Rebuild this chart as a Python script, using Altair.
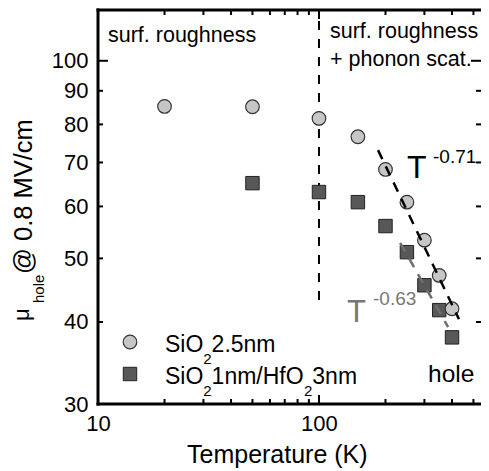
import altair as alt
import pandas as pd

# ---- data ----
temp_sio2 = [20, 50, 100, 150, 200, 250, 300, 350, 400]
mu_sio2 = [85.2, 85.1, 81.7, 76.6, 68.3, 60.9, 53.3, 47.1, 41.9]

temp_hfo2 = [50, 100, 150, 200, 250, 300, 350, 400]
mu_hfo2 = [65.1, 63.1, 60.9, 56.0, 51.1, 45.5, 41.7, 37.9]

fit_sio2_t = [185, 430]
fit_sio2_mu = [73.1, 40.4]
fit_hfo2_t = [233, 384]
fit_hfo2_mu = [52.8, 39.3]

boundary_t = [100, 100]
boundary_mu = [43.2, 119.5]

x_label_values = [10, 100]
y_label_values = [30, 40, 50, 60, 70, 80, 90, 100]
x_major_ticks = [10, 100]
x_minor_ticks = [20, 30, 40, 50, 60, 70, 80, 90, 200, 300, 400, 500]
y_major_ticks = [100]
y_minor_ticks = [30, 40, 50, 60, 70, 80, 90]

W, H = 383, 394
FONT = "Liberation Sans"

xscale = alt.Scale(type="log", domain=[10, 541], nice=False, zero=False)
yscale = alt.Scale(type="log", domain=[30, 119.5], nice=False, zero=False)
xaxis = alt.Axis(values=x_label_values, format="d", ticks=False, domain=False, grid=False,
                 labelFontSize=22, labelFont=FONT, labelColor="black", labelPadding=9,
                 title=None, labelFlush=False, labelOverlap=False)
yaxis = alt.Axis(values=y_label_values, format="d", ticks=False, domain=False, grid=False,
                 labelFontSize=22, labelFont=FONT, labelColor="black", labelPadding=10,
                 title=None, labelOverlap=False)
xenc = alt.X("T:Q", scale=xscale, axis=xaxis)
yenc = alt.Y("mu:Q", scale=yscale, axis=yaxis)

one = pd.DataFrame({"k": [0]})

df_sio2 = pd.DataFrame({"T": temp_sio2, "mu": mu_sio2})
df_hfo2 = pd.DataFrame({"T": temp_hfo2, "mu": mu_hfo2})
df_fit1 = pd.DataFrame({"T": fit_sio2_t, "mu": fit_sio2_mu})
df_fit2 = pd.DataFrame({"T": fit_hfo2_t, "mu": fit_hfo2_mu})
df_bound = pd.DataFrame({"T": boundary_t, "mu": boundary_mu})

layers = []

# ticks (inward) on all four sides
def xticks(vals, length):
    d = pd.DataFrame({"T": vals})
    bot = alt.Chart(d).mark_rule(color="black", strokeWidth=2).encode(
        x=xenc, y=alt.value(H), y2=alt.value(H - length))
    top = alt.Chart(d).mark_rule(color="black", strokeWidth=2).encode(
        x=xenc, y=alt.value(0), y2=alt.value(length))
    return [bot, top]

def yticks(vals, length):
    d = pd.DataFrame({"mu": vals})
    left = alt.Chart(d).mark_rule(color="black", strokeWidth=2).encode(
        y=yenc, x=alt.value(0), x2=alt.value(length))
    right = alt.Chart(d).mark_rule(color="black", strokeWidth=2).encode(
        y=yenc, x=alt.value(W), x2=alt.value(W - length))
    return [left, right]

layers += xticks(x_major_ticks, 9) + xticks(x_minor_ticks, 5)
layers += yticks(y_major_ticks, 10) + yticks(y_minor_ticks, 5)

# frame: left, bottom, top
layers.append(alt.Chart(one).mark_rule(color="black", strokeWidth=3).encode(
    x=alt.value(0), y=alt.value(-1.5), y2=alt.value(H + 1.5)))
layers.append(alt.Chart(one).mark_rule(color="black", strokeWidth=3).encode(
    y=alt.value(H), x=alt.value(-1.5), x2=alt.value(W)))
layers.append(alt.Chart(one).mark_rule(color="black", strokeWidth=3).encode(
    y=alt.value(0), x=alt.value(-1.5), x2=alt.value(W)))

# regime boundary
layers.append(alt.Chart(df_bound).mark_line(color="black", strokeWidth=2, strokeDash=[9, 9]).encode(
    x=xenc, y=yenc))

# data
sq = dict(shape="square", filled=True, fill="#585858", stroke="#222222", strokeWidth=1, size=180, opacity=1)
ci = dict(shape="circle", filled=True, fill="#c6c6c6", stroke="#333333", strokeWidth=1.2, size=185, opacity=1)
layers.append(alt.Chart(df_hfo2).mark_point(**sq).encode(x=xenc, y=yenc))
layers.append(alt.Chart(df_sio2).mark_point(**ci).encode(x=xenc, y=yenc))

# fits
layers.append(alt.Chart(df_fit2).mark_line(color="#6e6e6e", strokeWidth=2.5, strokeDash=[10, 8]).encode(
    x=xenc, y=yenc))
layers.append(alt.Chart(df_fit1).mark_line(color="black", strokeWidth=2.5, strokeDash=[10, 8]).encode(
    x=xenc, y=yenc))

# legend markers
layers.append(alt.Chart(one).mark_point(**ci).encode(x=alt.value(32), y=alt.value(332)))
layers.append(alt.Chart(one).mark_point(**sq).encode(x=alt.value(32), y=alt.value(364)))

def txt(s, x, y, size, color="black", angle=0, align="left"):
    props = dict(text=s, font=FONT, fontSize=size, color=color, align=align, baseline="alphabetic")
    if angle:
        props["angle"] = angle
    return alt.Chart(one).mark_text(**props).encode(x=alt.value(x), y=alt.value(y))

# legend text
layers += [
    txt("SiO", 67, 341.5, 23), txt("2", 105.3, 354, 15), txt("2.5nm", 113.6, 341.5, 23),
    txt("SiO", 67, 373.5, 23), txt("2", 105.3, 386, 15), txt("1nm/HfO", 113.6, 373.5, 23),
    txt("2", 206, 386, 15), txt("3nm", 214.3, 373.5, 23),
]

# annotations
layers += [
    txt("surf. roughness", 10, 32, 21.5),
    txt("surf. roughness", 232, 28, 21.5),
    txt("+ phonon scat.", 232, 56, 21.5),
    txt("T", 309, 168, 32),
    txt("-0.71", 335, 153, 19),
    txt("T", 249, 312, 31, color="#777777"),
    txt("-0.63", 275, 295, 19, color="#777777"),
    txt("hole", 330, 372, 24.5),
]

# axis titles
layers += [
    txt("Temperature (K)", 89, 453, 25),
    txt("\u03bc", -69, 311, 22, angle=270),
    txt("hole", -54.5, 293, 15, angle=270),
    txt("@ 0.8 MV/cm", -66, 264, 25.5, angle=270),
]

chart = alt.layer(*layers).properties(
    width=W, height=H,
    autosize=alt.AutoSizeParams(type="none"),
    padding={"left": 90, "top": 2, "right": 0, "bottom": 67},
).configure_view(strokeWidth=0)

chart.save("out.html", embed_options={"renderer": "svg", "actions": False})
